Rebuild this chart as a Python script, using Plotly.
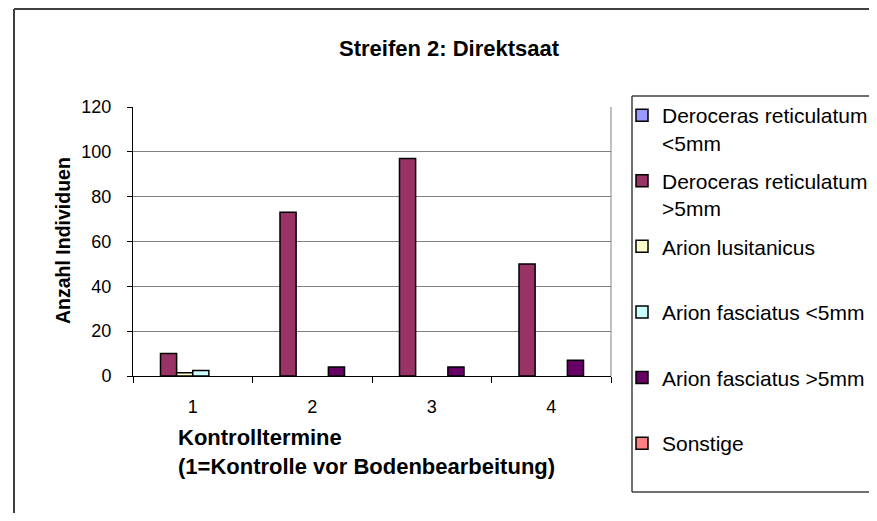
import plotly.graph_objects as go

categories = ["1", "2", "3", "4"]
series_names = [
    "Deroceras reticulatum<br><5mm",
    "Deroceras reticulatum<br>>5mm",
    "Arion lusitanicus<br> ",
    "Arion fasciatus <5mm<br> ",
    "Arion fasciatus >5mm<br> ",
    "Sonstige<br> ",
]
dr_small = [0, 0, 0, 0]
dr_large = [10, 73, 97, 50]
arion_lus = [1.5, 0, 0, 0]
af_small = [2.5, 0, 0, 0]
af_large = [0, 4, 4, 7]
sonstige = [0, 0, 0, 0]
series_values = [dr_small, dr_large, arion_lus, af_small, af_large, sonstige]
colors = ["#9999FF", "#993366", "#FFFFCC", "#CCFFFF", "#660066", "#FF8080"]
y_ticks = [0, 20, 40, 60, 80, 100, 120]

OFF = 8  # page body margin
W, H = 877 - 2 * OFF, 521 - 2 * OFF
# plot area in reference (screen) pixels
L, R, T, B = 133, 611, 107, 376

def px(x):
    return (x - L) / (R - L)

def py(y):
    return (B - y) / (B - T)

FONT = "Liberation Sans, Arial, sans-serif"

fig = go.Figure()
for i, (name, vals, col) in enumerate(zip(series_names, series_values, colors)):
    fig.add_trace(go.Bar(
        x=categories, y=[v if v else None for v in vals], name=name,
        marker=dict(color=col, line=dict(color="black", width=1.5)),
        legendgroup=f"g{i}",
    ))

def seg(x0, y0, x1, y1, color="#404040", width=1.5):
    return dict(type="line", xref="paper", yref="paper",
                x0=px(x0), y0=py(y0), x1=px(x1), y1=py(y1),
                line=dict(color=color, width=width))

fig.update_layout(
    width=W, height=H,
    margin=dict(l=L - OFF, r=W - (R - OFF), t=T - OFF, b=H - (B - OFF),
                autoexpand=False),
    paper_bgcolor="white", plot_bgcolor="white",
    barmode="group", bargap=0.19, bargroupgap=0,
    font=dict(family=FONT, color="black", size=18),
    showlegend=True,
    legend=dict(
        x=px(622), y=py(95), xanchor="left", yanchor="top",
        bgcolor="rgba(0,0,0,0)", borderwidth=0,
        font=dict(family=FONT, size=21, color="black"),
        valign="top", tracegroupgap=8, traceorder="grouped",
        maxheight=600,
    ),
    xaxis=dict(
        type="category", showline=True, linecolor="black", linewidth=1,
        ticks="outside", ticklen=6, tickcolor="black", tickson="boundaries",
        showgrid=False, ticklabelstandoff=14,
        tickfont=dict(family=FONT, size=18),
    ),
    yaxis=dict(
        range=[0, 120], tickvals=y_ticks, showline=True, linecolor="black",
        linewidth=1, ticks="outside", ticklen=5, tickcolor="black",
        showgrid=True, gridcolor="#808080", gridwidth=1, zeroline=False,
        ticklabelstandoff=12, tickfont=dict(family=FONT, size=18),
    ),
    shapes=[
        # outer chart frame (top and left edges; others lie off-canvas)
        seg(14, 9, 880, 9, width=2),
        seg(14, 9, 14, 530, width=2),
        # legend box (right edge lies off-canvas)
        seg(632, 96, 880, 96),
        seg(632, 96, 632, 492),
        seg(632, 492, 880, 492),
        # plot area right border
        dict(type="line", xref="paper", yref="paper",
             x0=1, x1=1, y0=0, y1=1,
             line=dict(color="#808080", width=1)),
    ],
    annotations=[
        dict(text="<b>Streifen 2: Direktsaat</b>", xref="paper", yref="paper",
             x=px(449), y=py(48), xanchor="center", yanchor="middle",
             showarrow=False, font=dict(family=FONT, size=22)),
        dict(text="<b>Anzahl Individuen</b>", xref="paper", yref="paper",
             x=px(63), y=py(241), xanchor="center", yanchor="middle",
             textangle=-90, showarrow=False, font=dict(family=FONT, size=19.5)),
        dict(text="<b>Kontrolltermine</b>", xref="paper", yref="paper",
             x=px(176), y=py(437), xanchor="left", yanchor="middle",
             showarrow=False, font=dict(family=FONT, size=22)),
        dict(text="<b>(1=Kontrolle vor Bodenbearbeitung)</b>", xref="paper", yref="paper",
             x=px(176), y=py(467), xanchor="left", yanchor="middle",
             showarrow=False, font=dict(family=FONT, size=22)),
    ],
)

fig.write_html("out.html")
